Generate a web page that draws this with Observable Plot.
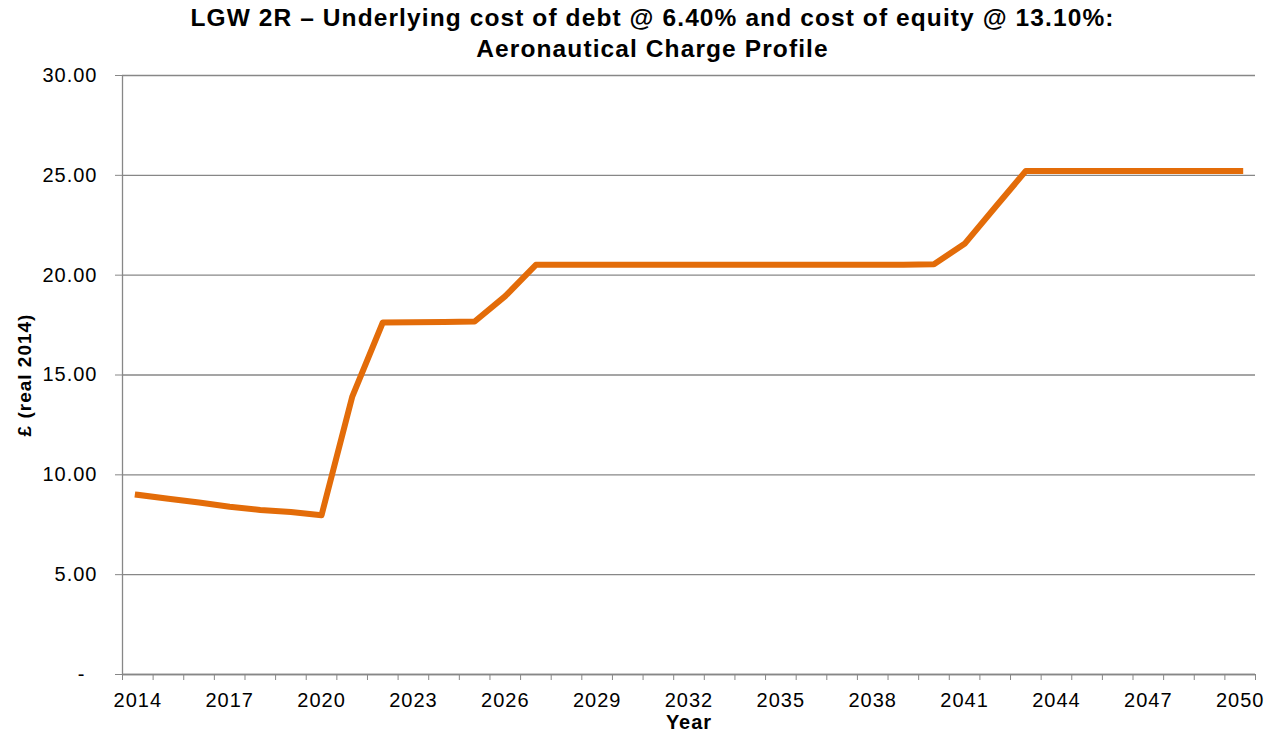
<!DOCTYPE html>
<html><head><meta charset="utf-8">
<script src="https://cdn.jsdelivr.net/npm/d3@7"></script>
<script src="https://cdn.jsdelivr.net/npm/@observablehq/plot@0.6"></script>
<style>
body{margin:0;background:#fff;font-family:"Liberation Sans",Arial,sans-serif;}
#title{box-sizing:border-box;width:1271px;height:62px;padding:3px 0 0 34px;text-align:center;font-weight:bold;font-size:24.5px;letter-spacing:1.1px;line-height:30.5px;color:#000;white-space:nowrap;}
#chart svg{display:block;letter-spacing:1px;}
</style></head><body>
<div id="title"></div>
<div id="chart"></div>
<script>
const years = [2014,2015,2016,2017,2018,2019,2020,2021,2022,2023,2024,2025,2026,2027,2028,2029,2030,2031,2032,2033,2034,2035,2036,2037,2038,2039,2040,2041,2042,2043,2044,2045,2046,2047,2048,2049,2050];
const charge = [9.00,8.80,8.61,8.40,8.24,8.14,7.98,13.90,17.63,17.64,17.65,17.68,18.95,20.52,20.52,20.52,20.52,20.52,20.52,20.52,20.52,20.52,20.52,20.52,20.52,20.52,20.55,21.57,23.40,25.22,25.22,25.22,25.22,25.22,25.22,25.22,25.22];
const xTickLabels = [2014,2017,2020,2023,2026,2029,2032,2035,2038,2041,2044,2047,2050];
const yTicks = [0,5,10,15,20,25,30];
const titleLines = ["LGW 2R – Underlying cost of debt @ 6.40% and cost of equity @ 13.10%:", "Aeronautical Charge Profile"];
const xLabel = "Year";
const yLabel = "£ (real 2014)";

const titleEl = document.getElementById("title");
titleLines.forEach((t, i) => {
  if (i) titleEl.appendChild(document.createElement("br"));
  titleEl.appendChild(document.createTextNode(t));
});

const data = years.map((yr, i) => ({year: yr, value: charge[i]}));
const boundaries = years.map(y => y - 0.5).concat([years[years.length - 1] + 0.5]);
const gray = "#878787";

const chart = Plot.plot({
  width: 1271,
  height: 671,
  marginLeft: 122,
  marginRight: 16,
  marginTop: 13,
  marginBottom: 59,
  x: {domain: [2013.5, 2050.5]},
  y: {domain: [0, 30]},
  style: {fontFamily: "'Liberation Sans', Arial, sans-serif", fontSize: "20px", color: "#000", background: "#fff"},
  marks: [
    Plot.gridY(yTicks, {stroke: gray, strokeOpacity: 1, strokeWidth: 1.3}),
    Plot.ruleX([2013.5], {stroke: gray, strokeWidth: 1.3}),
    Plot.ruleY([0], {stroke: gray, strokeWidth: 1.3}),
    Plot.axisY({ticks: yTicks, tickSize: 7, tickPadding: 18, stroke: gray, fontSize: 20, label: null,
      tickFormat: d => d === 0 ? "-\u2007" : d.toFixed(2)}),
    Plot.axisX({ticks: boundaries, tickSize: 6, stroke: gray, label: null, tickFormat: () => ""}),
    Plot.axisX({ticks: xTickLabels, tickSize: 0, tickPadding: 18, fontSize: 20, label: null, tickFormat: d => String(d)}),
    Plot.line(data, {x: "year", y: "value", stroke: "#E36C09", strokeWidth: 6, strokeLinejoin: "round", strokeLinecap: "square"}),
    Plot.text([xLabel], {text: d => d, frameAnchor: "bottom", dy: 54, fontWeight: "bold", fontSize: 20}),
    Plot.text([yLabel], {text: d => d, frameAnchor: "left", textAnchor: "middle", dx: -98, rotate: -90, fontWeight: "bold", fontSize: 19})
  ]
});
document.getElementById("chart").appendChild(chart);
</script>
</body></html>
